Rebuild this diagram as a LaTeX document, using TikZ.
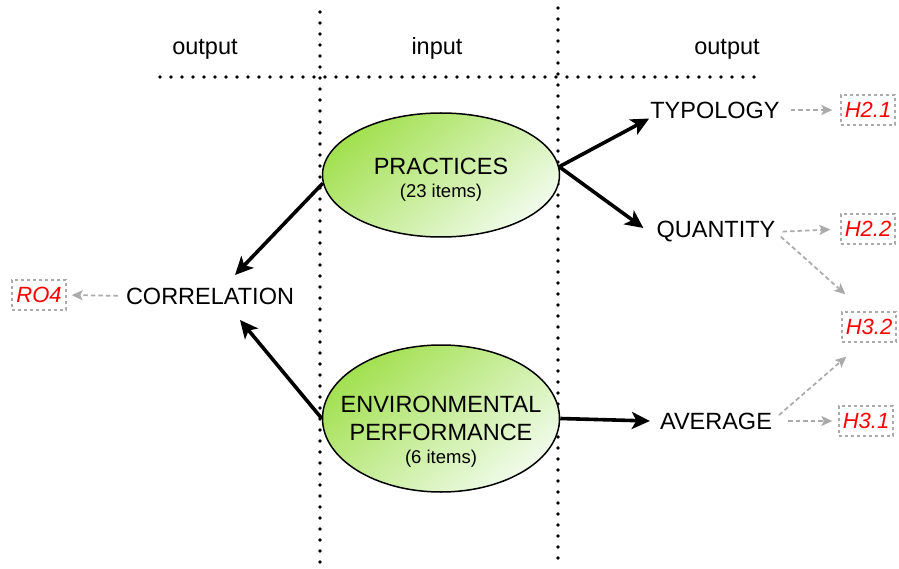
\documentclass[tikz,border=0pt]{standalone}
\usepackage{fontspec}
\setmainfont{Liberation Sans}
\usetikzlibrary{arrows.meta,shapes.geometric}
\definecolor{leafdark}{HTML}{A2E050}
\definecolor{leaflight}{HTML}{F0FBEA}
\definecolor{hint}{HTML}{AAAAAA}
\definecolor{hyp}{HTML}{FF0000}

\begin{document}
\begin{tikzpicture}[
  x=1pt,y=-1pt,
  bigtxt/.style={font=\fontsize{23.5}{28}\selectfont,inner sep=0pt,text=black},
  smalltxt/.style={font=\fontsize{18.5}{22}\selectfont,inner sep=0pt},
  blob/.style={ellipse,draw=black,line width=1.5pt,
               top color=leafdark,bottom color=leaflight,shading angle=40,
               minimum width=237pt},
  hyptag/.style={draw=hint,dashed,line width=1.3pt,fill=white,text=hyp,
                 font=\fontsize{22}{25}\selectfont\itshape,inner sep=0pt,
                 minimum width=54pt,minimum height=30pt},
  divider/.style={line width=3.6pt,line cap=round,dash pattern=on 0pt off 11pt},
  push/.style={-{Stealth[length=18pt,width=17pt,inset=4.5pt]},line width=3.6pt},
  hint/.style={-{Stealth[length=11pt,width=10pt,inset=2.5pt]},draw=hint,
               line width=1.7pt,dash pattern=on 4.5pt off 3pt}
]
\useasboundingbox (0,0) rectangle (899,569);

% Column dividers and header line.
\draw[divider] (320,12)--(320,569);
\draw[divider] (558,8)--(558,569);
\draw[divider] (160,77)--(765,77);

\node[bigtxt,anchor=base] (headl) at (205,55) {output};
\node[bigtxt,anchor=base] (headm) at (437,55) {input};
\node[bigtxt,anchor=base] (headr) at (727,55) {output};

% Input constructs.
\node[blob,minimum height=124pt] (prac) at (441,175) {};
\node[bigtxt,anchor=base] (practxt) at (441,175) {PRACTICES};
\node[smalltxt,anchor=base] (pracn) at (441,198) {(23 items)};

\node[blob,minimum height=147pt] (env) at (441,418.5) {};
\node[bigtxt,anchor=base] (envtxt) at (441,412) {ENVIRONMENTAL};
\node[bigtxt,anchor=base] (envtxtb) at (441,440) {PERFORMANCE};
\node[smalltxt,anchor=base] (envn) at (441,463) {(6 items)};

% Outputs.
\node[bigtxt] (corr) at (210,296) {CORRELATION};
\node[bigtxt] (typ) at (715,110) {TYPOLOGY};
\node[bigtxt] (qty) at (716,232) {QUANTITY};
\node[bigtxt] (avg) at (716,421) {AVERAGE};

% Hypotheses and research objective.
\node[hyptag] (ro4) at (39,295) {RO4};
\node[hyptag] (h21) at (868,110) {H2.1};
\node[hyptag] (h22) at (868,229) {H2.2};
\node[hyptag] (h32) at (869,327) {H3.2};
\node[hyptag] (h31) at (866,421) {H3.1};

\draw[push] (prac.184) -- ([shift={(25pt,21pt)}]corr.center);
\draw[push] (env.west) -- ([shift={(30pt,-24pt)}]corr.center);
\draw[push] (prac.4) -- ([xshift=-1pt]typ.south west);
\draw[push] (prac.4) -- ([xshift=-13pt,yshift=4pt]qty.west);
\draw[push] (env.east) -- ([xshift=-10pt]avg.west);

\draw[hint,shorten <=8pt,shorten >=5pt] (corr.west) -- (ro4.east);
\draw[hint,shorten <=11pt,shorten >=8pt] (typ.east) -- (h21.west);
\draw[hint,shorten <=7pt,shorten >=10pt] (qty.east) -- (h22.west);
\draw[hint,shorten <=7pt] (qty.east) -- ([shift={(4pt,17pt)}]h32.north west);
\draw[hint,shorten <=9pt] (avg.east) -- ([shift={(5pt,-14pt)}]h32.south west);
\draw[hint,shorten <=16pt,shorten >=6pt] (avg.east) -- (h31.west);

\end{tikzpicture}
\end{document}
